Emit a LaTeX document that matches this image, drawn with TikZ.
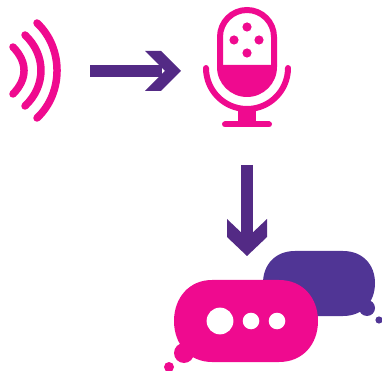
\documentclass[tikz,border=0pt]{standalone}
\usepackage{xcolor}
\definecolor{micpink}{HTML}{EF0A8F}
\definecolor{arrowpurple}{HTML}{532A85}
\definecolor{bubblepurple}{HTML}{503595}

\begin{document}
\begin{tikzpicture}[
        x=0.02cm, y=-0.02cm,
        wave/.style={draw=micpink, line width=0.15cm, line cap=round},
        micline/.style={draw=micpink, line width=0.12cm, line cap=round},
        micfill/.style={fill=micpink},
        holedot/.style={fill=white},
        shaft/.style={draw=arrowpurple, line width=0.24cm},
        chevron/.style={fill=arrowpurple}
    ]
        \useasboundingbox (0,0) rectangle (382,371);

        % sound waves
        \draw[wave] (13,47) .. controls (27.7,62) and (27.7,79) .. (13,94);
        \draw[wave] (25,35) .. controls (46.3,55) and (46.3,86) .. (25,106);
        \draw[wave] (37,23) .. controls (63.7,48) and (63.7,93) .. (37,118);

        % microphone
        \draw[micline] (220,65) -- (220,37) arc (180:360:27 and 27) -- (274,65);
        \fill[micfill] (217,65) -- (277,65) -- (277,67) arc (0:180:30 and 30) -- cycle;
        \fill[micfill] (247,27) circle (4.6);
        \fill[micfill] (234,40) circle (4.6);
        \fill[micfill] (259,40) circle (4.6);
        \fill[micfill] (247,53) circle (4.6);
        \draw[micline] (206,68) arc (180:0:41 and 41);
        \fill[micfill] (238,108) rectangle (256,124);
        \draw[micline] (225,124.5) -- (269,124.5);

        % arrows
        \coordinate (wavesout) at (90,71);
        \coordinate (micin) at (162,71);
        \coordinate (micout) at (247,165);
        \coordinate (bubblein) at (247,238);
        \draw[shaft] (wavesout) -- (micin);
        \fill[chevron] (145,51) -- (161,51) -- (181,71) -- (161,91) -- (145,91) -- (165,71) -- cycle;
        \draw[shaft] (micout) -- (bubblein);
        \fill[chevron] (227,219) -- (247,238) -- (267,219) -- (267,237) -- (247,256) -- (227,237) -- cycle;

        % back bubble
        \fill[bubblepurple] (295,251) -- (343,251) .. controls (363,251) and (375,265) .. (375,283)
            .. controls (375,302) and (363,316) .. (343,316) -- (295,316)
            .. controls (275,316) and (263,302) .. (263,283)
            .. controls (263,265) and (275,251) .. (295,251) -- cycle;
        \fill[bubblepurple] (367,308) circle (8);
        \fill[bubblepurple] (379,320) circle (3.6);

        % front bubble
        \fill[micpink] (212,280) -- (279,280) .. controls (303,280) and (318,298) .. (318,321)
            .. controls (318,344) and (303,362) .. (279,362) -- (212,362)
            .. controls (189,362) and (174,344) .. (174,321)
            .. controls (174,298) and (189,280) .. (212,280) -- cycle;
        \fill[micpink] (184,353) circle (10);
        \fill[micpink] (169,367) circle (5);
        \fill[holedot] (220,321) circle (13.4);
        \fill[holedot] (251,321) circle (8.3);
        \fill[holedot] (277,321) circle (8.3);
    \end{tikzpicture}
\end{document}
